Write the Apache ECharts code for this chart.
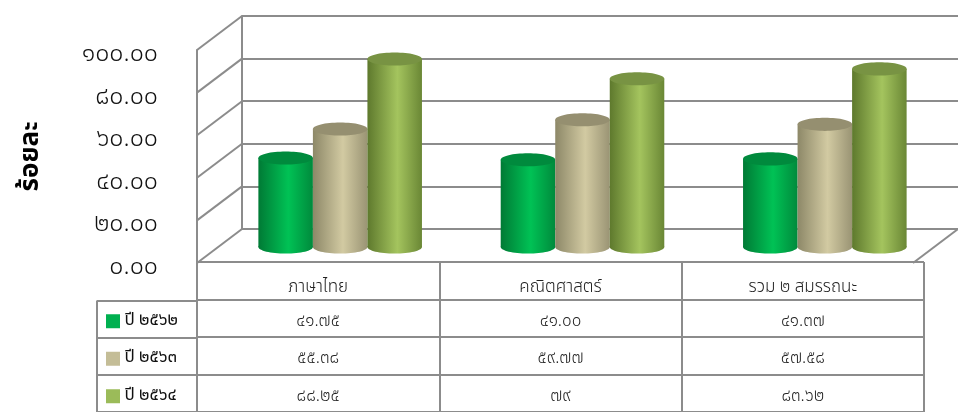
<!DOCTYPE html>
<html>
<head>
<meta charset="utf-8">
<script src="https://cdn.jsdelivr.net/npm/echarts@6/dist/echarts.min.js"></script>
<style>
html, body { margin: 0; padding: 0; background: #fff; }
#chart { width: 958px; height: 412px; }
</style>
</head>
<body>
<div id="chart"></div>
<script>
var categories = ['ภาษาไทย', 'คณิตศาสตร์', 'รวม ๒ สมรรถนะ'];
var seriesNames = ['ปี ๒๕๖๒', 'ปี ๒๕๖๓', 'ปี ๒๕๖๔'];
var values2562 = ['41.75', '41.00', '41.37'];
var values2563 = ['55.38', '59.77', '57.58'];
var values2564 = ['88.25', '79', '83.62'];
var yTicks = [0, 20, 40, 60, 80, 100];

var allValues = [values2562, values2563, values2564];
var colors = ['#00b050', '#c4bd97', '#9bbb59'];
// body gradient: left edge, middle, right edge, top face
var shades = [
  ['#007a35', '#00c255', '#008a3c', '#008a3d'],
  ['#8d8868', '#d2caa2', '#9a9474', '#958f70'],
  ['#5e792d', '#a4c45e', '#6a8735', '#789343']
];
var gridColor = '#8c8c8c';
var font = "'Noto Sans Thai', 'Noto Sans', 'DejaVu Sans', sans-serif";
var DX = 45, DY = 34;   // depth offset of the back wall

function thai(s) {
  return String(s).replace(/[0-9]/g, function (d) { return '๐๑๒๓๔๕๖๗๘๙'.charAt(+d); });
}

var chart = echarts.init(document.getElementById('chart'));

function cylinder(s) {
  return function (params, api) {
    var cat = api.value(0), v = api.value(1);
    var top = api.coord([cat, v]);
    var base = api.coord([cat, 0]);
    var band = api.size([1, 0])[0];
    var w = band * 0.225;
    var cx = top[0] + (s - 1) * w;
    var rx = w / 2, ry = w * 0.12;
    var sh = shades[s];
    var grad = new echarts.graphic.LinearGradient(0, 0, 1, 0, [
      { offset: 0, color: sh[0] },
      { offset: 0.55, color: sh[1] },
      { offset: 1, color: sh[2] }
    ]);
    return {
      type: 'group',
      children: [
        { type: 'ellipse', shape: { cx: cx, cy: base[1], rx: rx, ry: ry }, style: { fill: grad } },
        { type: 'rect', shape: { x: cx - rx, y: top[1], width: w, height: base[1] - top[1] }, style: { fill: grad } },
        { type: 'ellipse', shape: { cx: cx, cy: top[1], rx: rx, ry: ry }, style: { fill: sh[3] } }
      ]
    };
  };
}

var barSeries = allValues.map(function (vals, s) {
  return {
    name: seriesNames[s],
    type: 'custom',
    xAxisIndex: 2, yAxisIndex: 2,
    renderItem: cylinder(s),
    data: vals.map(function (v, i) { return [i, parseFloat(v)]; }),
    z: 5
  };
});

// table cells: header row then one row per year
var tableCells = [];
categories.forEach(function (c, i) { tableCells.push({ value: [i, 0], text: c }); });
allValues.forEach(function (vals, s) {
  vals.forEach(function (v, i) { tableCells.push({ value: [i, s + 1], text: thai(v) }); });
});

var option = {
  animation: false,
  grid: [
    { left: 242, right: -11, top: 16, height: 213 },   // back wall
    { left: 197, right: 34, top: 50, height: 213 },    // front edge
    { left: 219, right: 12, top: 34, height: 213 },    // bars (mid depth)
    { left: 197, right: 34, top: 262, height: 154 },   // data table
    { left: 97, width: 100, top: 300.5, height: 115.5 }, // legend column
    { left: 197, right: 34, top: 56, height: 213 }     // tick labels
  ],
  xAxis: [
    { gridIndex: 0, type: 'value', min: 0, max: 1, show: false },
    { gridIndex: 1, type: 'value', min: 0, max: 1, show: false },
    { gridIndex: 2, type: 'category', data: categories, show: false },
    { gridIndex: 3, type: 'category', data: categories, axisLine: { show: false }, axisTick: { show: false },
      axisLabel: { show: false }, splitLine: { show: true, lineStyle: { color: gridColor, width: 2 } } },
    { gridIndex: 4, type: 'category', data: [''], axisLine: { show: false }, axisTick: { show: false },
      axisLabel: { show: false }, splitLine: { show: true, lineStyle: { color: gridColor, width: 2 } } },
    { gridIndex: 5, type: 'value', min: 0, max: 1, show: false }
  ],
  yAxis: [
    { gridIndex: 0, type: 'value', min: 0, max: 100, interval: 20,
      axisLine: { show: true, lineStyle: { color: gridColor, width: 2 } }, axisTick: { show: false },
      axisLabel: { show: false }, splitLine: { show: true, lineStyle: { color: gridColor, width: 2 } } },
    { gridIndex: 1, type: 'value', min: 0, max: 100, interval: 20,
      name: 'ร้อยละ', nameLocation: 'middle', nameRotate: 90, nameGap: 151,
      nameTextStyle: { fontSize: 26, fontWeight: 'bold', color: '#000', fontFamily: font },
      axisLine: { show: true, lineStyle: { color: gridColor, width: 2 } }, axisTick: { show: false },
      splitLine: { show: false }, axisLabel: { show: false } },
    { gridIndex: 2, type: 'value', min: 0, max: 100, interval: 20, show: false },
    { gridIndex: 3, type: 'category', inverse: true, data: [''].concat(seriesNames),
      axisLine: { show: false }, axisTick: { show: false },
      splitLine: { show: true, lineStyle: { color: gridColor, width: 2 } },
      axisLabel: { margin: 91, align: 'left', fontSize: 17, color: '#111', fontFamily: font,
        padding: [6, 0, 0, 0],
        formatter: function (v, i) { return i === 0 ? '' : '{sq' + (i - 1) + '|} ' + v; },
        rich: {
          sq0: { width: 14, height: 14, backgroundColor: colors[0] },
          sq1: { width: 14, height: 14, backgroundColor: colors[1] },
          sq2: { width: 14, height: 14, backgroundColor: colors[2] }
        } } },
    { gridIndex: 4, type: 'category', inverse: true, data: seriesNames,
      axisLine: { show: false }, axisTick: { show: false }, axisLabel: { show: false },
      splitLine: { show: true, lineStyle: { color: gridColor, width: 2 } } },
    { gridIndex: 5, type: 'value', min: 0, max: 100, interval: 20,
      axisLine: { show: false }, axisTick: { show: false }, splitLine: { show: false },
      axisLabel: { margin: 39, fontSize: 25, fontWeight: 300, color: '#111', fontFamily: font,
        formatter: function (v) { return thai(v.toFixed(2)); } } }
  ],
  series: [
    {
      type: 'custom', xAxisIndex: 0, yAxisIndex: 0,
      data: yTicks.map(function (v) { return [0, v]; }).concat([[1, 0]]),
      renderItem: function (params, api) {
        var p = api.coord([api.value(0), api.value(1)]);
        return { type: 'line', shape: { x1: p[0] - DX, y1: p[1] + DY, x2: p[0], y2: p[1] },
          style: { stroke: gridColor, lineWidth: 2 } };
      },
      z: 1
    },
    {
      type: 'custom', xAxisIndex: 3, yAxisIndex: 3,
      data: tableCells,
      renderItem: function (params, api) {
        var row = api.value(1);
        var p = api.coord([api.value(0), row]);
        return { type: 'text', x: p[0], y: p[1] + (row === 0 ? 8 : 4),
          style: { text: tableCells[params.dataIndex].text, align: 'center', verticalAlign: 'middle',
            fill: '#222', fontSize: 17, fontWeight: 300, fontFamily: font } };
      }
    }
  ].concat(barSeries)
};

chart.setOption(option);
</script>
</body>
</html>
